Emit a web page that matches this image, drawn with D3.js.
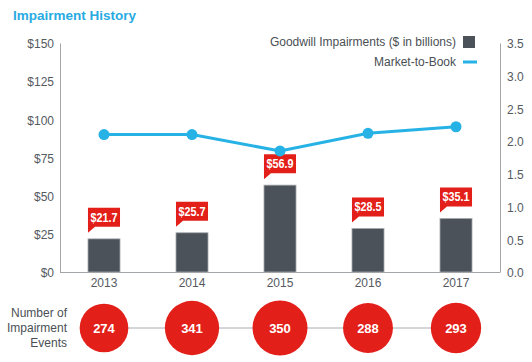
<!DOCTYPE html>
<html>
<head>
<meta charset="utf-8">
<script src="https://cdn.jsdelivr.net/npm/d3@7"></script>
<style>
	body { margin: 0; background: #fff; }
	svg { display: block; font-family: "Liberation Sans", Arial, sans-serif; }
	.axis text { fill: #555a5f; font-size: 12px; }
	.axis path { stroke: #a3a6a9; }
</style>
</head>
<body>
<svg id="chart" width="532" height="362"></svg>
<script>
(function() {

	// chart values
	const years = ["2013", "2014", "2015", "2016", "2017"];
	const impairments = [21.7, 25.7, 56.9, 28.5, 35.1];
	const marketToBook = [2.1, 2.1, 1.85, 2.12, 2.22];
	const events = [274, 341, 350, 288, 293];
	const leftTicks = [0, 25, 50, 75, 100, 125, 150];
	const rightTicks = [0, 0.5, 1, 1.5, 2, 2.5, 3, 3.5];

	const svg = d3.select("#chart");
	const left = 60, right = 500, top = 43, bottom = 272;

	const x = d3.scaleBand()
		.domain(years)
		.range([left, right])
		.paddingInner(0.636)
		.paddingOuter(0.318);
	const y = d3.scaleLinear().domain([0, 150]).range([bottom, top]);
	const y2 = d3.scaleLinear().domain([0, 3.5]).range([bottom, top]);
	const r = d3.scaleSqrt().domain([0, 350]).range([0, 27.5]);

	// title
	svg.append("text")
		.attr("x", 13).attr("y", 20)
		.attr("fill", "#29abe2")
		.attr("font-size", 13.5)
		.attr("font-weight", "bold")
		.text("Impairment History");

	// axes
	svg.append("g")
		.attr("class", "axis")
		.attr("transform", "translate(" + left + ",0)")
		.call(d3.axisLeft(y).tickValues(leftTicks).tickSize(0).tickPadding(6)
			.tickFormat(d => "$" + d))
		.call(g => g.selectAll("text").attr("dy", "0.4em"));

	svg.append("g")
		.attr("class", "axis")
		.attr("transform", "translate(" + right + ",0)")
		.call(d3.axisRight(y2).tickValues(rightTicks).tickSize(0).tickPadding(7)
			.tickFormat(d3.format(".1f")))
		.call(g => g.selectAll("text").attr("dy", "0.4em"));

	svg.append("g")
		.attr("class", "axis")
		.attr("transform", "translate(0," + bottom + ")")
		.call(d3.axisBottom(x).tickSize(0).tickPadding(6).tickSizeOuter(0))
		.call(g => g.select(".domain").attr("d", "M" + left + ",0.5H" + right))
		.call(g => g.selectAll("text").attr("font-size", 11).attr("fill", "#4a4f54"));

	// bars
	svg.append("g").selectAll("rect")
		.data(impairments)
		.join("rect")
		.attr("x", (d, i) => x(years[i]))
		.attr("y", d => y(d))
		.attr("width", x.bandwidth())
		.attr("height", d => y(0) - y(d))
		.attr("fill", "#4b5259")
		.attr("stroke", "#a7abaf")
		.attr("stroke-width", 0.8);

	// red callouts over the bars
	const bw = x.bandwidth();
	const callout = svg.append("g").selectAll("g")
		.data(impairments)
		.join("g")
		.attr("transform", (d, i) => "translate(" + x(years[i]) + "," + (y(d) - 31) + ")");
	callout.append("path")
		.attr("d", "M0,0H" + bw + "V19H7L0,25Z")
		.attr("fill", "#e31f1a");
	callout.append("text")
		.attr("x", bw / 2).attr("y", 14)
		.attr("text-anchor", "middle")
		.attr("fill", "#fff")
		.attr("font-weight", "bold")
		.attr("font-size", 12.5)
		.attr("textLength", bw - 5)
		.attr("lengthAdjust", "spacingAndGlyphs")
		.text(d => "$" + d.toFixed(1));

	// market-to-book line
	const line = d3.line()
		.x((d, i) => x(years[i]) + bw / 2)
		.y(d => y2(d));
	svg.append("path")
		.datum(marketToBook)
		.attr("d", line)
		.attr("fill", "none")
		.attr("stroke", "#27b2e6")
		.attr("stroke-width", 3);
	svg.append("g").selectAll("circle")
		.data(marketToBook)
		.join("circle")
		.attr("cx", (d, i) => x(years[i]) + bw / 2)
		.attr("cy", d => y2(d))
		.attr("r", 5.5)
		.attr("fill", "#27b2e6");

	// legend
	const legend = svg.append("g").attr("font-size", 12).attr("fill", "#4a4f54");
	legend.append("text").attr("x", 456).attr("y", 46).attr("text-anchor", "end")
		.text("Goodwill Impairments ($ in billions)");
	legend.append("rect").attr("x", 463).attr("y", 36).attr("width", 12).attr("height", 12)
		.attr("fill", "#4b5259");
	legend.append("text").attr("x", 456).attr("y", 66).attr("text-anchor", "end")
		.text("Market-to-Book");
	legend.append("line").attr("x1", 463).attr("x2", 477).attr("y1", 62).attr("y2", 62)
		.attr("stroke", "#27b2e6").attr("stroke-width", 3);

	// number of impairment events
	const cy = 328;
	const ev = svg.append("g");
	ev.append("line")
		.attr("x1", x(years[0]) + bw / 2)
		.attr("x2", x(years[years.length - 1]) + bw / 2)
		.attr("y1", cy).attr("y2", cy)
		.attr("stroke", "#a9acaf").attr("stroke-width", 1);
	ev.selectAll("circle")
		.data(events)
		.join("circle")
		.attr("cx", (d, i) => x(years[i]) + bw / 2)
		.attr("cy", cy)
		.attr("r", d => r(d))
		.attr("fill", "#e31f1a");
	ev.selectAll("text")
		.data(events)
		.join("text")
		.attr("x", (d, i) => x(years[i]) + bw / 2)
		.attr("y", cy + 5)
		.attr("text-anchor", "middle")
		.attr("fill", "#fff")
		.attr("font-weight", "bold")
		.attr("font-size", 13)
		.text(d => d);

	const lbl = svg.append("text")
		.attr("text-anchor", "end")
		.attr("font-size", 12)
		.attr("fill", "#4a4f54");
	["Number of", "Impairment", "Events"].forEach((t, i) => {
		lbl.append("tspan").attr("x", 67).attr("y", 317 + i * 15).text(t);
	});
})();
</script>
</body>
</html>
